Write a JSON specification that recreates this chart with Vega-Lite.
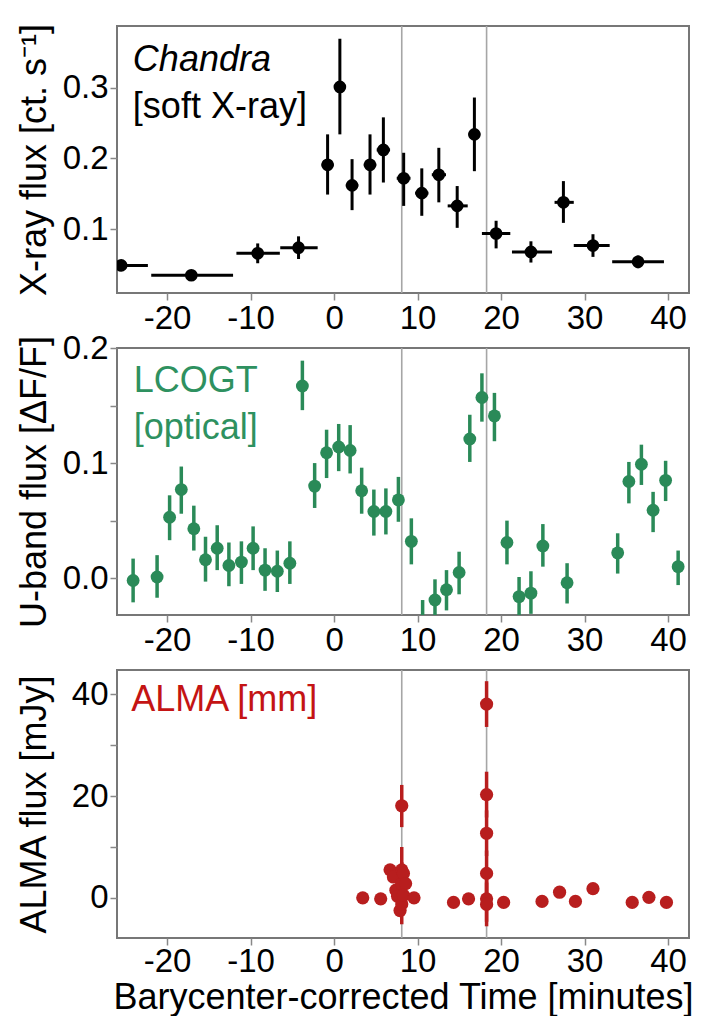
{
  "$schema": "https://vega.github.io/schema/vega-lite/v6.json",
  "padding": {"left": 14, "top": 22, "right": 10, "bottom": 0},
  "bounds": "flush",
  "spacing": 55,
  "config": {
    "font": "Liberation Sans",
    "view": {"stroke": "#777777", "strokeWidth": 2},
    "axis": {
      "labelFont": "Liberation Sans", "labelFontSize": 33, "labelColor": "#000000",
      "titleFont": "Liberation Sans", "titleFontSize": 36, "titleFontWeight": "normal", "titleColor": "#000000",
      "tickColor": "#888888", "tickSize": 7, "tickWidth": 1.5, "domain": false, "grid": false, "labelPadding": 2
    }
  },
  "datasets": {
    "vlines": [{"t": 8.1}, {"t": 18.26}],
    "chandra": [
      {"t": -25.5, "f": 0.049, "tlo": -29, "thi": -22.3, "flo": 0.044, "fhi": 0.054},
      {"t": -17.1, "f": 0.035, "tlo": -21.9, "thi": -12.1, "flo": 0.031, "fhi": 0.039},
      {"t": -9.15, "f": 0.066, "tlo": -11.7, "thi": -6.5, "flo": 0.052, "fhi": 0.080},
      {"t": -4.26, "f": 0.074, "tlo": -6.45, "thi": -1.97, "flo": 0.058, "fhi": 0.090},
      {"t": -0.78, "f": 0.191, "tlo": -1.5, "thi": -0.05, "flo": 0.149, "fhi": 0.234},
      {"t": 0.69, "f": 0.301, "tlo": 0.05, "thi": 1.35, "flo": 0.234, "fhi": 0.369},
      {"t": 2.15, "f": 0.162, "tlo": 1.4, "thi": 2.9, "flo": 0.127, "fhi": 0.199},
      {"t": 4.3, "f": 0.191, "tlo": 3.55, "thi": 5.05, "flo": 0.149, "fhi": 0.234},
      {"t": 5.9, "f": 0.212, "tlo": 5.1, "thi": 6.7, "flo": 0.166, "fhi": 0.258},
      {"t": 8.33, "f": 0.172, "tlo": 7.5, "thi": 9.15, "flo": 0.133, "fhi": 0.208},
      {"t": 10.5, "f": 0.151, "tlo": 9.7, "thi": 11.3, "flo": 0.119, "fhi": 0.186},
      {"t": 12.54, "f": 0.177, "tlo": 11.7, "thi": 13.4, "flo": 0.138, "fhi": 0.215},
      {"t": 14.74, "f": 0.133, "tlo": 13.6, "thi": 16.0, "flo": 0.102, "fhi": 0.161},
      {"t": 16.8, "f": 0.234, "tlo": 16.1, "thi": 17.5, "flo": 0.182, "fhi": 0.286},
      {"t": 19.4, "f": 0.094, "tlo": 17.7, "thi": 21.1, "flo": 0.073, "fhi": 0.112},
      {"t": 23.57, "f": 0.068, "tlo": 21.3, "thi": 26.1, "flo": 0.053, "fhi": 0.083},
      {"t": 27.46, "f": 0.138, "tlo": 26.4, "thi": 28.7, "flo": 0.109, "fhi": 0.168},
      {"t": 31.0, "f": 0.077, "tlo": 28.7, "thi": 33.0, "flo": 0.061, "fhi": 0.093},
      {"t": 36.4, "f": 0.054, "tlo": 33.3, "thi": 39.5, "flo": 0.045, "fhi": 0.063}
    ],
    "lcogt": [
      {"t": -24.07, "f": -0.002, "flo": -0.021, "fhi": 0.017},
      {"t": -21.2, "f": 0.001, "flo": -0.017, "fhi": 0.020},
      {"t": -19.7, "f": 0.053, "flo": 0.033, "fhi": 0.072},
      {"t": -18.3, "f": 0.077, "flo": 0.056, "fhi": 0.097},
      {"t": -16.8, "f": 0.043, "flo": 0.024, "fhi": 0.063},
      {"t": -15.4, "f": 0.016, "flo": -0.003, "fhi": 0.036},
      {"t": -14.0, "f": 0.026, "flo": 0.007, "fhi": 0.046},
      {"t": -12.6, "f": 0.011, "flo": -0.007, "fhi": 0.031},
      {"t": -11.1, "f": 0.014, "flo": -0.005, "fhi": 0.032},
      {"t": -9.7, "f": 0.026, "flo": 0.007, "fhi": 0.045},
      {"t": -8.27, "f": 0.007, "flo": -0.011, "fhi": 0.026},
      {"t": -6.8, "f": 0.006, "flo": -0.012, "fhi": 0.024},
      {"t": -5.3, "f": 0.013, "flo": -0.005, "fhi": 0.032},
      {"t": -3.8, "f": 0.167, "flo": 0.146, "fhi": 0.189},
      {"t": -2.33, "f": 0.080, "flo": 0.061, "fhi": 0.100},
      {"t": -0.9, "f": 0.109, "flo": 0.087, "fhi": 0.129},
      {"t": 0.55, "f": 0.114, "flo": 0.093, "fhi": 0.134},
      {"t": 1.92, "f": 0.111, "flo": 0.091, "fhi": 0.133},
      {"t": 3.3, "f": 0.076, "flo": 0.056, "fhi": 0.096},
      {"t": 4.76, "f": 0.058, "flo": 0.037, "fhi": 0.077},
      {"t": 6.2, "f": 0.058, "flo": 0.038, "fhi": 0.078},
      {"t": 7.7, "f": 0.068, "flo": 0.049, "fhi": 0.088},
      {"t": 9.25, "f": 0.032, "flo": 0.012, "fhi": 0.052},
      {"t": 10.6, "f": -0.038, "flo": -0.058, "fhi": -0.019},
      {"t": 12.08, "f": -0.019, "flo": -0.037, "fhi": -0.001},
      {"t": 13.46, "f": -0.010, "flo": -0.028, "fhi": 0.007},
      {"t": 14.97, "f": 0.005, "flo": -0.014, "fhi": 0.023},
      {"t": 16.25, "f": 0.121, "flo": 0.101, "fhi": 0.142},
      {"t": 17.7, "f": 0.157, "flo": 0.136, "fhi": 0.178},
      {"t": 19.2, "f": 0.141, "flo": 0.119, "fhi": 0.161},
      {"t": 20.7, "f": 0.031, "flo": 0.012, "fhi": 0.050},
      {"t": 22.15, "f": -0.016, "flo": -0.034, "fhi": 0.001},
      {"t": 23.57, "f": -0.013, "flo": -0.031, "fhi": 0.006},
      {"t": 25.0, "f": 0.028, "flo": 0.010, "fhi": 0.047},
      {"t": 27.9, "f": -0.004, "flo": -0.022, "fhi": 0.013},
      {"t": 33.96, "f": 0.022, "flo": 0.004, "fhi": 0.039},
      {"t": 35.3, "f": 0.084, "flo": 0.065, "fhi": 0.101},
      {"t": 36.8, "f": 0.099, "flo": 0.081, "fhi": 0.116},
      {"t": 38.2, "f": 0.059, "flo": 0.040, "fhi": 0.075},
      {"t": 39.7, "f": 0.085, "flo": 0.067, "fhi": 0.102},
      {"t": 41.2, "f": 0.010, "flo": -0.006, "fhi": 0.024}
    ],
    "alma": [
      {"t": 3.43, "f": 0.0},
      {"t": 5.58, "f": -0.2},
      {"t": 6.7, "f": 5.5},
      {"t": 7.1, "f": 4.1},
      {"t": 7.4, "f": 1.5},
      {"t": 7.6, "f": 0.3},
      {"t": 7.9, "f": -2.5},
      {"t": 8.1, "f": 18.1, "flo": 13.9, "fhi": 22.2},
      {"t": 8.1, "f": 5.5, "flo": 1.0, "fhi": 10.0},
      {"t": 8.1, "f": 2.8, "flo": -1.5, "fhi": 7.0},
      {"t": 8.1, "f": -1.2, "flo": -5.2, "fhi": 3.0},
      {"t": 8.3, "f": 4.8},
      {"t": 8.56, "f": 2.8},
      {"t": 8.3, "f": 0.5},
      {"t": 9.57, "f": 0.0},
      {"t": 14.3, "f": -0.9},
      {"t": 16.1, "f": -0.2},
      {"t": 18.26, "f": 38.1, "flo": 33.6, "fhi": 42.6},
      {"t": 18.26, "f": 20.3, "flo": 15.8, "fhi": 24.8},
      {"t": 18.26, "f": 12.7, "flo": 8.2, "fhi": 17.2},
      {"t": 18.26, "f": 4.8, "flo": 0.3, "fhi": 9.3},
      {"t": 18.26, "f": -0.2, "flo": -4.7, "fhi": 4.3},
      {"t": 18.26, "f": -1.3, "flo": -5.6, "fhi": 3.0},
      {"t": 20.3, "f": -0.9},
      {"t": 24.9, "f": -0.7},
      {"t": 27.0, "f": 1.1},
      {"t": 28.9, "f": -0.7},
      {"t": 31.0, "f": 1.8},
      {"t": 35.7, "f": -0.9},
      {"t": 37.7, "f": 0.1},
      {"t": 39.8, "f": -0.9}
    ]
  },
  "vconcat": [
    {
      "width": 572, "height": 267,
      "layer": [
        {"data": {"name": "vlines"}, "mark": {"type": "rule", "color": "#a6a6a6", "strokeWidth": 1.6},
         "encoding": {"x": {"field": "t", "type": "quantitative", "scale": {"domain": [-26, 42.5], "nice": false, "zero": false},
           "axis": {"values": [-20, -10, 0, 10, 20, 30, 40], "labelExpr": "'' + datum.value", "title": null}}}},
        {"data": {"name": "chandra"}, "mark": {"type": "rule", "color": "#000000", "strokeWidth": 3, "clip": true},
         "encoding": {"x": {"field": "tlo", "type": "quantitative"}, "x2": {"field": "thi"},
           "y": {"field": "f", "type": "quantitative", "scale": {"domain": [0.01, 0.387], "nice": false, "zero": false},
             "axis": {"values": [0.1, 0.2, 0.3], "format": ".1f", "title": "X-ray flux [ct. s⁻¹]", "titleX": -64, "titleY": 133.5}}}},
        {"data": {"name": "chandra"}, "mark": {"type": "rule", "color": "#000000", "strokeWidth": 3, "clip": true},
         "encoding": {"x": {"field": "t", "type": "quantitative"}, "y": {"field": "flo", "type": "quantitative"}, "y2": {"field": "fhi"}}},
        {"data": {"name": "chandra"}, "mark": {"type": "circle", "color": "#000000", "size": 160, "opacity": 1, "clip": true},
         "encoding": {"x": {"field": "t", "type": "quantitative"}, "y": {"field": "f", "type": "quantitative"}}},
        {"data": {"values": [{"t": -24.1, "f": 0.3235, "s": "Chandra"}]},
         "mark": {"type": "text", "align": "left", "baseline": "alphabetic", "fontSize": 36, "fontStyle": "italic", "color": "#000000"},
         "encoding": {"x": {"field": "t", "type": "quantitative"}, "y": {"field": "f", "type": "quantitative"}, "text": {"field": "s"}}},
        {"data": {"values": [{"t": -24.1, "f": 0.2576, "s": "[soft X-ray]"}]},
         "mark": {"type": "text", "align": "left", "baseline": "alphabetic", "fontSize": 36, "color": "#000000"},
         "encoding": {"x": {"field": "t", "type": "quantitative"}, "y": {"field": "f", "type": "quantitative"}, "text": {"field": "s"}}}
      ]
    },
    {
      "width": 572, "height": 267,
      "layer": [
        {"data": {"name": "vlines"}, "mark": {"type": "rule", "color": "#a6a6a6", "strokeWidth": 1.6},
         "encoding": {"x": {"field": "t", "type": "quantitative", "scale": {"domain": [-26, 42.5], "nice": false, "zero": false},
           "axis": {"values": [-20, -10, 0, 10, 20, 30, 40], "labelExpr": "'' + datum.value", "title": null}}}},
        {"data": {"name": "lcogt"}, "mark": {"type": "rule", "color": "#2a8a58", "strokeWidth": 3.5, "clip": true},
         "encoding": {"x": {"field": "t", "type": "quantitative"},
           "y": {"field": "flo", "type": "quantitative", "scale": {"domain": [-0.032, 0.2], "nice": false, "zero": false},
             "axis": {"values": [0, 0.05, 0.1, 0.15, 0.2], "labelExpr": "abs(datum.value * 10 - round(datum.value * 10)) < 0.01 ? format(datum.value, '.1f') : ''", "title": "U-band flux [ΔF/F]", "titleX": -64, "titleY": 133.5}},
           "y2": {"field": "fhi"}}},
        {"data": {"name": "lcogt"}, "mark": {"type": "circle", "color": "#2a8a58", "size": 165, "opacity": 1, "clip": true},
         "encoding": {"x": {"field": "t", "type": "quantitative"}, "y": {"field": "f", "type": "quantitative"}}},
        {"data": {"values": [{"t": -24.0, "f": 0.162, "s": "LCOGT"}, {"t": -24.0, "f": 0.121, "s": "[optical]"}]},
         "mark": {"type": "text", "align": "left", "baseline": "alphabetic", "fontSize": 36, "color": "#2e9160"},
         "encoding": {"x": {"field": "t", "type": "quantitative"}, "y": {"field": "f", "type": "quantitative"}, "text": {"field": "s"}}}
      ]
    },
    {
      "width": 572, "height": 268,
      "layer": [
        {"data": {"name": "vlines"}, "mark": {"type": "rule", "color": "#a6a6a6", "strokeWidth": 1.6},
         "encoding": {"x": {"field": "t", "type": "quantitative", "scale": {"domain": [-26, 42.5], "nice": false, "zero": false},
           "axis": {"values": [-20, -10, 0, 10, 20, 30, 40], "labelExpr": "'' + datum.value", "title": "Barycenter-corrected Time [minutes]", "titleFontSize": 36, "labelPadding": 0, "titlePadding": 2}}}},
        {"data": {"name": "alma"}, "transform": [{"filter": "isValid(datum.flo)"}],
         "mark": {"type": "rule", "color": "#b81e1e", "strokeWidth": 3.5, "clip": true},
         "encoding": {"x": {"field": "t", "type": "quantitative"},
           "y": {"field": "flo", "type": "quantitative", "scale": {"domain": [-7.9, 44.8], "nice": false, "zero": false},
             "axis": {"values": [0, 10, 20, 30, 40], "labelExpr": "datum.value % 20 == 0 ? '' + datum.value : ''", "title": "ALMA flux [mJy]", "titleX": -64, "titleY": 134}},
           "y2": {"field": "fhi"}}},
        {"data": {"name": "alma"}, "mark": {"type": "circle", "color": "#b81e1e", "size": 175, "opacity": 1, "clip": true},
         "encoding": {"x": {"field": "t", "type": "quantitative"}, "y": {"field": "f", "type": "quantitative"}}},
        {"data": {"values": [{"t": -24.3, "f": 36.8, "s": "ALMA  [mm]"}]},
         "mark": {"type": "text", "align": "left", "baseline": "alphabetic", "fontSize": 36, "color": "#c41414"},
         "encoding": {"x": {"field": "t", "type": "quantitative"}, "y": {"field": "f", "type": "quantitative"}, "text": {"field": "s"}}}
      ]
    }
  ]
}
